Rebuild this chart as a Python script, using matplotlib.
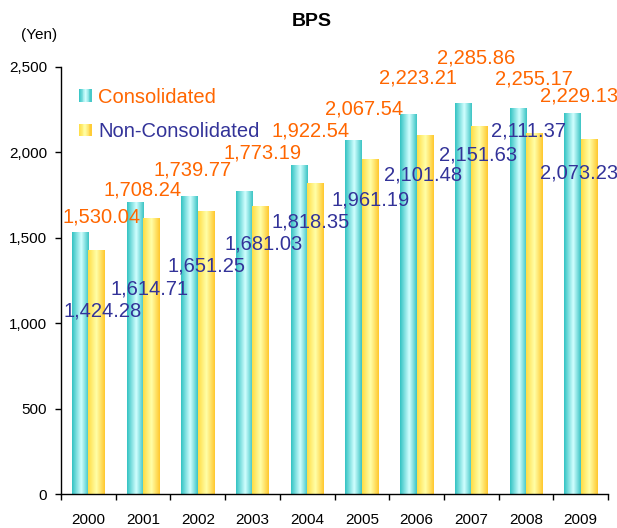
import numpy as np
import matplotlib
matplotlib.use("Agg")
import matplotlib.pyplot as plt
from matplotlib.colors import LinearSegmentedColormap
from matplotlib.legend_handler import HandlerBase
from matplotlib.patches import Rectangle

plt.rcParams['font.family'] = ['Liberation Sans', 'DejaVu Sans']

years = ['2000', '2001', '2002', '2003', '2004', '2005', '2006', '2007', '2008', '2009']
consolidated = [1530.04, 1708.24, 1739.77, 1773.19, 1922.54, 2067.54, 2223.21, 2285.86, 2255.17, 2229.13]
non_consolidated = [1424.28, 1614.71, 1651.25, 1681.03, 1818.35, 1961.19, 2101.48, 2151.63, 2111.37, 2073.23]
yticks = [0, 500, 1000, 1500, 2000, 2500]

# label placement offsets (pixels) relative to the bar top
cons_off = [(13, 16), (0, 12), (-5, 27), (10, 38), (3, 35), (2, 32), (1, 36), (5, 46), (8, 30), (-2, 17)]
non_off = [(14, -60), (7, -71), (9, -54), (11, -37), (3, -39), (9, -41), (7, -40), (7, -28), (3, 2), (-2, -33)]

ORANGE = '#FF6600'
NAVY = '#333399'

cyan_cmap = LinearSegmentedColormap.from_list(
    'cy', [(0, '#33C3C3'), (0.55, '#D2FFFF'), (1, '#3CC4C4')])
yel_cmap = LinearSegmentedColormap.from_list(
    'ye', [(0, '#FFDD44'), (0.5, '#FFFFA8'), (1, '#FFC82E')])

fig = plt.figure(figsize=(6.17, 5.28), dpi=100)
ax = fig.add_axes([61/617, 34/528, 547/617, 427/528])

w = 0.3
grad = np.linspace(0, 1, 64)[np.newaxis, :]
x = np.arange(len(years))
for i in x:
    ax.imshow(grad, extent=(i - w, i, 0, consolidated[i]), cmap=cyan_cmap,
              aspect='auto', zorder=2, interpolation='bilinear')
    ax.imshow(grad, extent=(i, i + w, 0, non_consolidated[i]), cmap=yel_cmap,
              aspect='auto', zorder=2, interpolation='bilinear')

for i in x:
    ax.annotate(f'{consolidated[i]:,.2f}', xy=(i, consolidated[i]),
                xytext=cons_off[i], textcoords='offset pixels',
                ha='center', va='center', color=ORANGE, fontsize=14.5, zorder=5)
    ax.annotate(f'{non_consolidated[i]:,.2f}', xy=(i, non_consolidated[i]),
                xytext=non_off[i], textcoords='offset pixels',
                ha='center', va='center', color=NAVY, fontsize=14.5, zorder=5)

ax.set_xlim(-0.5, len(years) - 0.5)
ax.set_ylim(0, 2500)
ax.set_yticks(yticks)
ax.set_yticklabels([f'{v:,}' for v in yticks], fontsize=11)
ax.set_xticks(x)
ax.set_xticklabels(years, fontsize=11)
ax.set_xticks(np.arange(-0.5, len(years)), minor=True)
ax.tick_params(axis='x', which='major', length=0, pad=14)
ax.tick_params(axis='x', which='minor', length=4, direction='out', width=1)
ax.tick_params(axis='y', length=4, direction='out', width=1, pad=6)
for s in ['top', 'right']:
    ax.spines[s].set_visible(False)
for s in ['left', 'bottom']:
    ax.spines[s].set_linewidth(1)

class GradHandler(HandlerBase):
    def __init__(self, cmap):
        super().__init__()
        self.cmap = cmap
    def create_artists(self, legend, orig_handle, xdescent, ydescent, width, height, fontsize, trans):
        n = 14
        arts = []
        for k in range(n):
            arts.append(Rectangle((-xdescent + width * k / n, -ydescent), width / n + 0.3, height,
                                  facecolor=self.cmap((k + 0.5) / n), edgecolor='none', transform=trans))
        return arts

h1 = Rectangle((0, 0), 1, 1)
h2 = Rectangle((0, 0), 1, 1)
leg = ax.legend([h1, h2], ['Consolidated', 'Non-Consolidated'],
                handler_map={h1: GradHandler(cyan_cmap), h2: GradHandler(yel_cmap)},
                loc='upper left', bbox_to_anchor=(0.033, 0.951), frameon=False,
                fontsize=14.5, handlelength=0.6, handleheight=0.6, handletextpad=0.35,
                labelspacing=0.75, borderpad=0, borderaxespad=0,
                labelcolor=[ORANGE, NAVY])

fig.text(0.506, 0.96, 'BPS', ha='center', va='center', fontsize=14, fontweight='bold')
fig.text(39/617, 1 - 35/528, '(Yen)', ha='center', va='center', fontsize=11)

fig.savefig('out.png', dpi=100)
